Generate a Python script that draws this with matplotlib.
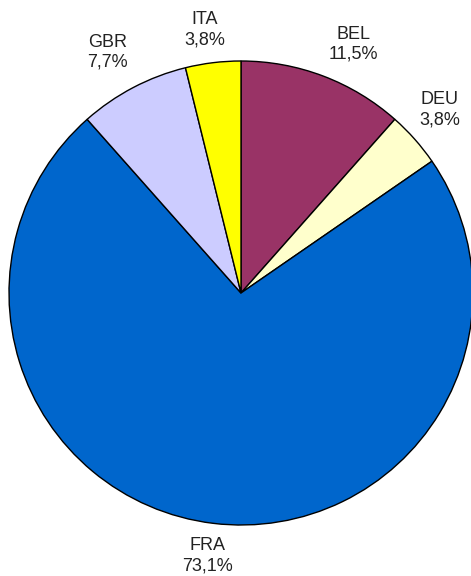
import matplotlib.pyplot as plt

plt.rcParams['font.family'] = ['Liberation Sans', 'DejaVu Sans']

# share of entries by country
countries = ['BEL', 'DEU', 'FRA', 'GBR', 'ITA']
counts = [3, 1, 19, 2, 1]
colors = ['#993366', '#FFFFCC', '#0066CC', '#CCCCFF', '#FFFF00']

total = sum(counts)
labels = [f"{c}\n{100 * n / total:.1f}%".replace('.', ',') for c, n in zip(countries, counts)]

W, H = 471, 576
fig = plt.figure(figsize=(W / 100, H / 100), dpi=100)
ax = fig.add_axes([0, 0, 1, 1])

cx, cy, r = 241, H - 293, 232
wedges, texts = ax.pie(counts, labels=labels, colors=colors, startangle=90,
                       counterclock=False, center=(cx, cy), radius=r,
                       labeldistance=1.16, frame=True,
                       wedgeprops=dict(edgecolor='black', linewidth=1.0))
ax.set_xlim(0, W)
ax.set_ylim(0, H)
ax.set_aspect('equal')
ax.axis('off')

# small pixel nudges so labels sit like the excel layout
nudge = {'BEL': (17, -3), 'DEU': (-3, 4.5), 'FRA': (-1, 4.5),
         'GBR': (-8, 2.5), 'ITA': (-4, -4)}
for t, c in zip(texts, countries):
    x, y = t.get_position()
    dx, dy = nudge[c]
    t.set_position((x + dx, y + dy))
    t.set_ha('center')
    t.set_va('center')
    t.set_fontsize(13)
    t.set_linespacing(1.25)
    t.set_color('#222222')

fig.savefig('out.png', dpi=100)
